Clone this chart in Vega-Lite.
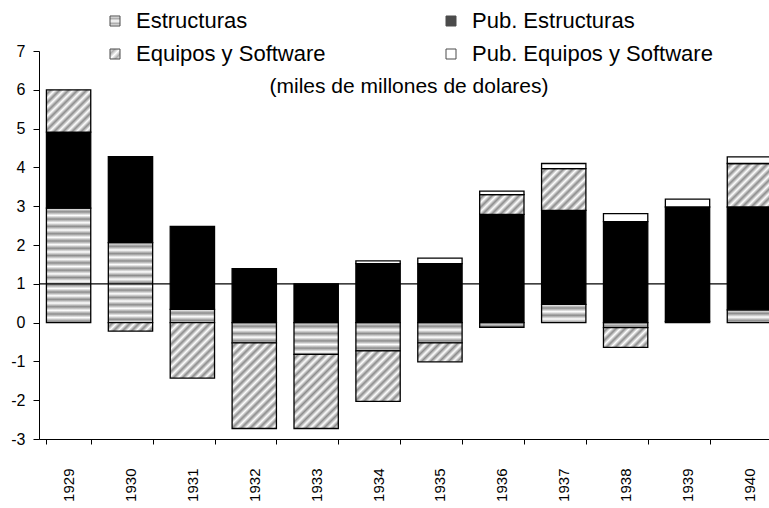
{
  "$schema": "https://vega.github.io/schema/vega-lite/v6.json",
  "width": 740,
  "height": 388,
  "autosize": {"type": "none"},
  "padding": {"left": 39, "top": 51, "right": -10, "bottom": 69},
  "background": "white",
  "config": {
    "font": "Liberation Sans",
    "view": {"stroke": null},
    "axis": {"domainColor": "black", "tickColor": "black", "labelColor": "black", "grid": false, "title": null, "labelFont": "Liberation Sans", "labelFontSize": 15, "domainWidth": 1, "tickWidth": 1},
    "axisY": {"tickCount": 20, "labelOverlap": false, "labelFontSize": 16, "tickSize": 6, "labelPadding": 8}
  },
  "title": {
    "text": "(miles de millones de dolares)",
    "frame": "group",
    "anchor": "middle",
    "offset": -36,
    "dy": 62,
    "baseline": "middle",
    "font": "Liberation Sans",
    "fontSize": 21,
    "fontWeight": "normal",
    "color": "black"
  },
  "params": [
    {"name": "gradLegE", "value": {"gradient": "linear", "x1": 0, "y1": 0, "x2": 0, "y2": 1, "stops": [{"offset": 0, "color": "#ffffff"}, {"offset": 0.25, "color": "#8c8c8c"}, {"offset": 0.5, "color": "#ffffff"}, {"offset": 0.75, "color": "#8c8c8c"}, {"offset": 1, "color": "#ffffff"}]}},
    {"name": "gradLegD", "value": {"gradient": "linear", "x1": 0, "y1": 0, "x2": 1, "y2": 1, "stops": [{"offset": 0, "color": "#ffffff"}, {"offset": 0.25, "color": "#8c8c8c"}, {"offset": 0.5, "color": "#ffffff"}, {"offset": 0.75, "color": "#8c8c8c"}, {"offset": 1, "color": "#ffffff"}]}},
    {"name": "stopsH", "value": [
      {"offset": 0, "color": "#ffffff"}, {"offset": 0.0304, "color": "#8c8c8c"},
      {"offset": 0.0608, "color": "#ffffff"}, {"offset": 0.0913, "color": "#8c8c8c"},
      {"offset": 0.1217, "color": "#ffffff"}, {"offset": 0.1521, "color": "#8c8c8c"},
      {"offset": 0.1825, "color": "#ffffff"}, {"offset": 0.2129, "color": "#8c8c8c"},
      {"offset": 0.2433, "color": "#ffffff"}, {"offset": 0.2738, "color": "#8c8c8c"},
      {"offset": 0.3042, "color": "#ffffff"}, {"offset": 0.3346, "color": "#8c8c8c"},
      {"offset": 0.3650, "color": "#ffffff"}, {"offset": 0.3954, "color": "#8c8c8c"},
      {"offset": 0.4258, "color": "#ffffff"}, {"offset": 0.4563, "color": "#8c8c8c"},
      {"offset": 0.4867, "color": "#ffffff"}, {"offset": 0.5171, "color": "#8c8c8c"},
      {"offset": 0.5475, "color": "#ffffff"}, {"offset": 0.5779, "color": "#8c8c8c"},
      {"offset": 0.6083, "color": "#ffffff"}, {"offset": 0.6388, "color": "#8c8c8c"},
      {"offset": 0.6692, "color": "#ffffff"}, {"offset": 0.6996, "color": "#8c8c8c"},
      {"offset": 0.7300, "color": "#ffffff"}, {"offset": 0.7604, "color": "#8c8c8c"},
      {"offset": 0.7908, "color": "#ffffff"}, {"offset": 0.8213, "color": "#8c8c8c"},
      {"offset": 0.8517, "color": "#ffffff"}, {"offset": 0.8821, "color": "#8c8c8c"},
      {"offset": 0.9125, "color": "#ffffff"}, {"offset": 0.9429, "color": "#8c8c8c"},
      {"offset": 0.9733, "color": "#ffffff"}, {"offset": 1.0, "color": "#8c8c8c"}
    ]},
    {"name": "stopsD", "value": [
      {"offset": 0, "color": "#ffffff"}, {"offset": 0.0321, "color": "#8c8c8c"},
      {"offset": 0.0643, "color": "#ffffff"}, {"offset": 0.0964, "color": "#8c8c8c"},
      {"offset": 0.1286, "color": "#ffffff"}, {"offset": 0.1607, "color": "#8c8c8c"},
      {"offset": 0.1929, "color": "#ffffff"}, {"offset": 0.2250, "color": "#8c8c8c"},
      {"offset": 0.2571, "color": "#ffffff"}, {"offset": 0.2893, "color": "#8c8c8c"},
      {"offset": 0.3214, "color": "#ffffff"}, {"offset": 0.3536, "color": "#8c8c8c"},
      {"offset": 0.3857, "color": "#ffffff"}, {"offset": 0.4179, "color": "#8c8c8c"},
      {"offset": 0.4500, "color": "#ffffff"}, {"offset": 0.4821, "color": "#8c8c8c"},
      {"offset": 0.5143, "color": "#ffffff"}, {"offset": 0.5464, "color": "#8c8c8c"},
      {"offset": 0.5786, "color": "#ffffff"}, {"offset": 0.6107, "color": "#8c8c8c"},
      {"offset": 0.6429, "color": "#ffffff"}, {"offset": 0.6750, "color": "#8c8c8c"},
      {"offset": 0.7071, "color": "#ffffff"}, {"offset": 0.7393, "color": "#8c8c8c"},
      {"offset": 0.7714, "color": "#ffffff"}, {"offset": 0.8036, "color": "#8c8c8c"},
      {"offset": 0.8357, "color": "#ffffff"}, {"offset": 0.8679, "color": "#8c8c8c"},
      {"offset": 0.9000, "color": "#ffffff"}, {"offset": 0.9321, "color": "#8c8c8c"},
      {"offset": 0.9643, "color": "#ffffff"}, {"offset": 0.9964, "color": "#8c8c8c"}
    ]}
  ],
  "data": {"values": [
    {"anio": "1929", "serie": "Estructuras", "valor": 2.95},
    {"anio": "1929", "serie": "Pub. Estructuras", "valor": 1.96},
    {"anio": "1929", "serie": "Equipos y Software", "valor": 1.09},
    {"anio": "1930", "serie": "Estructuras", "valor": 2.06},
    {"anio": "1930", "serie": "Pub. Estructuras", "valor": 2.22},
    {"anio": "1930", "serie": "Equipos y Software", "valor": -0.22},
    {"anio": "1931", "serie": "Estructuras", "valor": 0.34},
    {"anio": "1931", "serie": "Pub. Estructuras", "valor": 2.14},
    {"anio": "1931", "serie": "Equipos y Software", "valor": -1.43},
    {"anio": "1932", "serie": "Estructuras", "valor": -0.52},
    {"anio": "1932", "serie": "Pub. Estructuras", "valor": 1.39},
    {"anio": "1932", "serie": "Equipos y Software", "valor": -2.21},
    {"anio": "1933", "serie": "Estructuras", "valor": -0.82},
    {"anio": "1933", "serie": "Pub. Estructuras", "valor": 1.0},
    {"anio": "1933", "serie": "Equipos y Software", "valor": -1.91},
    {"anio": "1934", "serie": "Estructuras", "valor": -0.73},
    {"anio": "1934", "serie": "Pub. Estructuras", "valor": 1.52},
    {"anio": "1934", "serie": "Equipos y Software", "valor": -1.30},
    {"anio": "1934", "serie": "Pub. Equipos y Software", "valor": 0.07},
    {"anio": "1935", "serie": "Estructuras", "valor": -0.52},
    {"anio": "1935", "serie": "Pub. Estructuras", "valor": 1.52},
    {"anio": "1935", "serie": "Equipos y Software", "valor": -0.49},
    {"anio": "1935", "serie": "Pub. Equipos y Software", "valor": 0.14},
    {"anio": "1936", "serie": "Estructuras", "valor": -0.12},
    {"anio": "1936", "serie": "Pub. Estructuras", "valor": 2.79},
    {"anio": "1936", "serie": "Equipos y Software", "valor": 0.51},
    {"anio": "1936", "serie": "Pub. Equipos y Software", "valor": 0.09},
    {"anio": "1937", "serie": "Estructuras", "valor": 0.47},
    {"anio": "1937", "serie": "Pub. Estructuras", "valor": 2.42},
    {"anio": "1937", "serie": "Equipos y Software", "valor": 1.08},
    {"anio": "1937", "serie": "Pub. Equipos y Software", "valor": 0.13},
    {"anio": "1938", "serie": "Estructuras", "valor": -0.13},
    {"anio": "1938", "serie": "Pub. Estructuras", "valor": 2.60},
    {"anio": "1938", "serie": "Equipos y Software", "valor": -0.51},
    {"anio": "1938", "serie": "Pub. Equipos y Software", "valor": 0.21},
    {"anio": "1939", "serie": "Estructuras", "valor": 0.03},
    {"anio": "1939", "serie": "Pub. Estructuras", "valor": 2.95},
    {"anio": "1939", "serie": "Pub. Equipos y Software", "valor": 0.20},
    {"anio": "1940", "serie": "Estructuras", "valor": 0.33},
    {"anio": "1940", "serie": "Pub. Estructuras", "valor": 2.65},
    {"anio": "1940", "serie": "Equipos y Software", "valor": 1.12},
    {"anio": "1940", "serie": "Pub. Equipos y Software", "valor": 0.17}
  ]},
  "transform": [
    {"window": [{"op": "row_number", "as": "ord"}], "groupby": ["anio"]}
  ],
  "layer": [
    {
      "mark": {
        "type": "bar",
        "stroke": "black",
        "strokeWidth": 1.3,
        "fill": {"expr": "datum.serie === 'Estructuras' ? {gradient: 'linear', x1: 0, y1: 0, x2: 0, y2: 120 / (abs(datum.valor) * 38.8), stops: stopsH} : datum.serie === 'Equipos y Software' ? {gradient: 'linear', x1: 0, y1: 0, x2: 140 * 44.3 / (1962.5 + pow(abs(datum.valor) * 38.8, 2)), y2: 140 * abs(datum.valor) * 38.8 / (1962.5 + pow(abs(datum.valor) * 38.8, 2)), stops: stopsD} : datum.serie === 'Pub. Estructuras' ? '#000000' : '#ffffff'"}
      },
      "encoding": {
        "x": {
          "field": "anio", "type": "ordinal",
          "scale": {"paddingInner": 0.284, "paddingOuter": 0.12},
          "axis": {"labelAngle": 270, "tickBand": "extent", "tickSize": 5, "labelPadding": 24, "title": null}
        },
        "y": {
          "field": "valor", "type": "quantitative", "stack": "zero",
          "scale": {"domain": [-3, 7], "nice": false, "zero": false},
          "axis": {"values": [-3, -2, -1, 0, 1, 2, 3, 4, 5, 6, 7], "tickCount": 20, "labelOverlap": false, "labelExpr": "'' + datum.value", "labelFontSize": 16, "tickSize": 6, "labelPadding": 8, "title": null}
        },
        "detail": {"field": "serie"},
        "order": {"field": "ord", "type": "quantitative"}
      }
    },
    {
      "transform": [{"filter": "false"}],
      "mark": {"type": "square"},
      "encoding": {
        "x": {
          "field": "anio", "type": "ordinal",
          "axis": {"labelAngle": 270, "tickBand": "extent", "tickSize": 5, "labelPadding": 24, "title": null}
        },
        "y": {
          "field": "valor", "type": "quantitative",
          "axis": {"values": [-3, -2, -1, 0, 1, 2, 3, 4, 5, 6, 7], "tickCount": 20, "labelOverlap": false, "labelExpr": "'' + datum.value", "labelFontSize": 16, "tickSize": 6, "labelPadding": 8, "title": null}
        },
        "fill": {
          "field": "serie", "type": "nominal",
          "scale": {
            "domain": ["Estructuras", "Pub. Estructuras", "Equipos y Software", "Pub. Equipos y Software"],
            "range": [{"expr": "gradLegE"}, "#000000", {"expr": "gradLegD"}, "#ffffff"]
          },
          "legend": {
            "orient": "none", "legendX": 65, "legendY": -41,
            "direction": "horizontal",
            "columns": 2, "title": null,
            "symbolType": "square", "symbolSize": 100,
            "symbolStrokeColor": "black", "symbolStrokeWidth": 1,
            "labelFont": "Liberation Sans", "labelFontSize": 22, "labelColor": "black",
            "labelOffset": 10, "columnPadding": 114, "rowPadding": 11,
            "padding": 0, "labelLimit": 400
          }
        }
      }
    },
    {
      "data": {"values": [{}]},
      "mark": {"type": "rule", "color": "black", "strokeWidth": 1.3},
      "encoding": {
        "y": {
          "datum": 1, "type": "quantitative",
          "axis": {"values": [-3, -2, -1, 0, 1, 2, 3, 4, 5, 6, 7], "tickCount": 20, "labelOverlap": false, "labelExpr": "'' + datum.value", "labelFontSize": 16, "tickSize": 6, "labelPadding": 8, "title": null}
        }
      }
    }
  ]
}
